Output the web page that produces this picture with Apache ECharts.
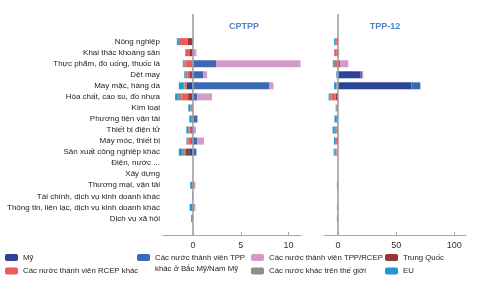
<!DOCTYPE html>
<html><head><meta charset="utf-8">
<script src="https://cdn.jsdelivr.net/npm/echarts@6/dist/echarts.min.js"></script>
<style>html,body{margin:0;padding:0;background:#fff}#c{width:478px;height:285px}</style>
</head><body><div id="c"></div>
<script>
const categories = ['Nông nghiệp','Khai thác khoáng sản','Thực phẩm, đồ uống, thuốc lá','Dệt may','May mặc, hàng da','Hóa chất, cao su, đồ nhựa','Kim loại','Phương tiện vận tải','Thiết bị điện tử','Máy móc, thiết bị','Sản xuất công nghiệp khác','Điện, nước ...','Xây dựng','Thương mại, vận tải','Tài chính, dịch vụ kinh doanh khác','Thông tin, liên lạc, dịch vụ kinh doanh khác','Dịch vụ xã hội'];
const seriesNames = ['Mỹ','Các nước thành viên TPP khác ở Bắc Mỹ/Nam Mỹ','Các nước thành viên TPP/RCEP','Trung Quốc','Các nước thành viên RCEP khác','Các nước khác trên thế giới','EU'];
const panelTitles = ['CPTPP','TPP-12'];
const cptppTicks = [0,5,10];
const tppTicks = [0,50,100];

// CPTPP
const cptppMy      = [-0.05,0,-0.05,-0.2,-0.65,-0.1,0,-0.1,0,-0.1,-0.4,0,0,0,0,0,0];
const cptppTppAm   = [0,0,2.4,1.05,8.0,0.42,0,0.42,0,0.42,0.35,0,0,0.1,0,0.1,0];
const cptppTppRcep = [0,0.35,8.85,0.42,0.42,1.56,0,0.1,0.3,0.73,0,0,0,0.15,0,0.15,0];
const cptppChina   = [-0.5,-0.4,0,-0.2,-0.05,-0.42,0,0,-0.2,-0.1,-0.4,0,0,0,0,0,0];
const cptppRcep    = [-0.95,-0.42,-0.73,-0.2,-0.2,-0.66,-0.2,-0.1,-0.2,-0.3,-0.05,0,0,0,0,0,0];
const cptppOther   = [0,0,-0.3,-0.18,-0.07,-0.42,-0.1,0,-0.1,-0.2,-0.3,0,0,-0.1,0,0,-0.1];
const cptppEU      = [-0.2,0,0,-0.14,-0.52,-0.28,-0.2,-0.2,-0.2,0,-0.35,0,0,-0.2,-0.1,-0.35,-0.1];

// TPP-12
const tppMy      = [0,0,1.0,19.5,63,0,0,0,0,-0.8,0,0,0,0,0,0,0];
const tppTppAm   = [0,0,0.8,1.4,7.8,0,0,0,0,0,0,0,0,0,0,0,0];
const tppTppRcep = [0,1.0,7.1,0.9,0,0,0,0,0,0,-0.4,0,0,0,0,0,0];
const tppChina   = [-1.0,-1.2,0,0,0,-2.0,0,0,-1.2,0,0,0,0,0,0,0,0];
const tppRcep    = [-1.4,-2.0,-2.6,0,-0.5,-3.4,-1.0,-1.0,0,-0.8,-0.9,0,0,0,0,0,0];
const tppOther   = [0,0,-0.9,-1.0,-0.9,-1.7,-1.0,0,-1.7,-0.9,-1.5,0,0,0,0,-0.9,0];
const tppEU      = [-0.9,0,-0.9,-0.5,-1.9,-0.9,0,-2.0,-1.7,-0.9,-0.9,0,0,-0.9,0,0,-0.9];

const colors = ['#2d4496','#3d69b4','#d49bca','#963737','#ef5b5b','#8e8e8e','#1f97cf'];
const FONT = 'Liberation Sans, Arial, sans-serif';

const cptpp = [cptppMy,cptppTppAm,cptppTppRcep,cptppChina,cptppRcep,cptppOther,cptppEU];
const tpp = [tppMy,tppTppAm,tppTppRcep,tppChina,tppRcep,tppOther,tppEU];
const pad = a => [null, null, ...a, null];
const axisCats = ['', ' ', ...categories, '  '];

const chart = echarts.init(document.getElementById('c'), null, {renderer:'canvas'});
const zeroLine = {silent:true, symbol:'none', label:{show:false},
  lineStyle:{color:'#a0a0a0', width:1.6, type:'solid'}, data:[{xAxis:0}], animation:false};

const series = [];
[cptpp, tpp].forEach((panel, p) => {
  panel.forEach((vals, i) => {
    const s = {name: seriesNames[i], type:'bar', stack:'s'+p, xAxisIndex:p, yAxisIndex:p,
      data: pad(vals), barWidth:7, itemStyle:{color:colors[i]}, animation:false};
    if (i === 0) s.markLine = zeroLine;
    series.push(s);
  });
});

const SPLIT = ' khác ở ';
const legendPos = [
  {left:5, top:251},{left:137, top:251},{left:251, top:251},{left:385, top:251},
  {left:5, top:264.5},{left:251, top:264.5},{left:385, top:264.5}];
const legends = seriesNames.map((n,i) => ({
  data:[n], left:legendPos[i].left, top:legendPos[i].top, padding:0, itemGap:0,
  itemWidth:13, itemHeight:7, selectedMode:false,
  formatter: t => t.split(SPLIT)[0],
  textStyle:{fontSize:7.8, color:'#222', fontFamily:FONT, lineHeight:13}
}));
const secondLine = seriesNames[1].split(SPLIT).length > 1 ? 'khác ở ' + seriesNames[1].split(SPLIT)[1] : '';

const xAxisBase = {type:'value', position:'bottom',
  axisLine:{show:true, lineStyle:{color:'#a6a6a6', width:1}},
  axisTick:{show:true, inside:true, length:3, lineStyle:{color:'#a6a6a6'}},
  splitLine:{show:false},
  axisLabel:{fontSize:9, color:'#333', fontFamily:FONT, margin:6}};

chart.setOption({
  animation:false,
  title: [
    {text:panelTitles[0], left:239, top:17, textAlign:'center', textStyle:{fontSize:9, fontWeight:'bold', color:'#4f82c8', fontFamily:FONT}},
    {text:panelTitles[1], left:380, top:17, textAlign:'center', textStyle:{fontSize:9, fontWeight:'bold', color:'#4f82c8', fontFamily:FONT}}
  ],
  legend: legends,
  graphic: [{type:'text', left:155, top:265, style:{text:secondLine, fontSize:7.8, fill:'#222', fontFamily:FONT}}],
  grid: [
    {left:163, width:138, top:14, height:221},
    {left:324, width:142, top:14, height:221}
  ],
  xAxis: [
    Object.assign({}, xAxisBase, {gridIndex:0, min:-3.15, max:11.3,
      axisTick:Object.assign({}, xAxisBase.axisTick, {customValues:cptppTicks}),
      axisLabel:Object.assign({}, xAxisBase.axisLabel, {customValues:cptppTicks})}),
    Object.assign({}, xAxisBase, {gridIndex:1, min:-12, max:110,
      axisTick:Object.assign({}, xAxisBase.axisTick, {customValues:tppTicks}),
      axisLabel:Object.assign({}, xAxisBase.axisLabel, {customValues:tppTicks})})
  ],
  yAxis: [
    {type:'category', gridIndex:0, data:axisCats, inverse:true,
     axisLine:{show:false}, axisTick:{show:false}, splitLine:{show:false},
     axisLabel:{fontSize:8, color:'#222', fontFamily:FONT, margin:3, interval:0}},
    {type:'category', gridIndex:1, data:axisCats, inverse:true,
     axisLine:{show:false}, axisTick:{show:false}, splitLine:{show:false},
     axisLabel:{show:false}}
  ],
  series: series
});
</script></body></html>
